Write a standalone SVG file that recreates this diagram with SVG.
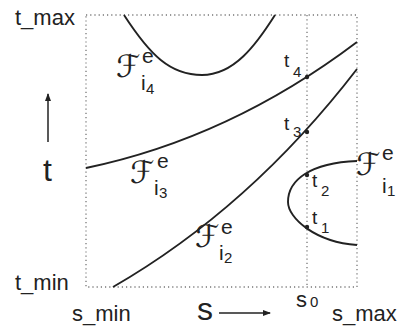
<svg xmlns="http://www.w3.org/2000/svg" width="399" height="327" viewBox="0 0 399 327">
<defs>
<marker id="ah" markerWidth="8" markerHeight="6" refX="7" refY="3" orient="auto" markerUnits="userSpaceOnUse"><path d="M0,0 L8,3 L0,6 z" fill="#222"/></marker>
<style>
.frame{fill:none;stroke:#777;stroke-width:1.3;stroke-dasharray:1.2 3}
.curve{fill:none;stroke:#222;stroke-width:1.9}
.axis{fill:none;stroke:#222;stroke-width:1.5;marker-end:url(#ah)}
text{font-family:"Liberation Sans",Arial,sans-serif;fill:#222}
.lab{font-size:22px}
.big{font-size:32px}
.F{font-family:"DejaVu Sans",sans-serif;font-size:31px;font-style:italic}
.sup{font-size:21px}
.sub{font-size:15px}
.tl{font-size:19px}
.dot{fill:#222}
</style>
</defs>
<rect width="399" height="327" fill="#fff"/>
<g id="frame">
<rect class="frame" x="86" y="15" width="271" height="272"/>
<line class="frame" x1="307" y1="15" x2="307" y2="287"/>
</g>
<g id="connectors">
<path id="Fi4" class="curve" d="M124,15 C150,55 170,75 202,75 C234,75 256,45 275,15"/>
<path id="Fi3" class="curve" d="M86,168 Q230,138 357,42"/>
<path id="Fi2" class="curve" d="M113,287 Q250,208 357,69"/>
<path id="Fi1" class="curve" d="M357,161 C310,163 288,180 288,202 C288,218 315,242 357,245"/>
<line class="axis" x1="48" y1="142" x2="48" y2="94"/>
<line class="axis" x1="219" y1="313" x2="270" y2="313"/>
</g>
<g id="points">
<circle class="dot" cx="307" cy="77" r="2.2"/>
<circle class="dot" cx="307" cy="132" r="2.2"/>
<circle class="dot" cx="307" cy="175" r="2.2"/>
<circle class="dot" cx="307" cy="227" r="2.2"/>
</g>
<g id="axis-labels">
<text class="lab" x="15" y="25">t_max</text>
<text class="lab" x="15" y="290">t_min</text>
<text class="lab" x="72" y="321">s_min</text>
<text class="lab" x="332" y="321">s_max</text>
<text class="lab" x="296" y="307">s</text>
<text class="sub" x="310" y="307">0</text>
<text class="big" x="43" y="181">t</text>
<text class="big" x="197" y="320">s</text>
</g>
<g id="label-Fi4">
<text class="F" x="116" y="77">ℱ</text>
<text class="sup" x="142" y="63">e</text>
<text class="sup" x="141" y="90">i</text>
<text class="sub" x="146" y="94">4</text>
</g>
<g id="label-Fi3">
<text class="F" x="130" y="183">ℱ</text>
<text class="sup" x="157" y="168">e</text>
<text class="sup" x="154" y="195">i</text>
<text class="sub" x="159" y="198">3</text>
</g>
<g id="label-Fi2">
<text class="F" x="195" y="247">ℱ</text>
<text class="sup" x="221" y="234">e</text>
<text class="sup" x="219" y="260">i</text>
<text class="sub" x="224" y="263">2</text>
</g>
<g id="label-Fi1">
<text class="F" x="356" y="175">ℱ</text>
<text class="sup" x="382" y="160">e</text>
<text class="sup" x="382" y="193">i</text>
<text class="sub" x="387" y="196">1</text>
</g>
<g id="t-labels">
<text class="tl" x="284" y="67">t</text>
<text class="sub" x="293" y="77">4</text>
<text class="tl" x="284" y="130">t</text>
<text class="sub" x="293" y="137">3</text>
<text class="tl" x="312" y="187">t</text>
<text class="sub" x="321" y="196">2</text>
<text class="tl" x="312" y="224">t</text>
<text class="sub" x="321" y="233">1</text>
</g>
</svg>
